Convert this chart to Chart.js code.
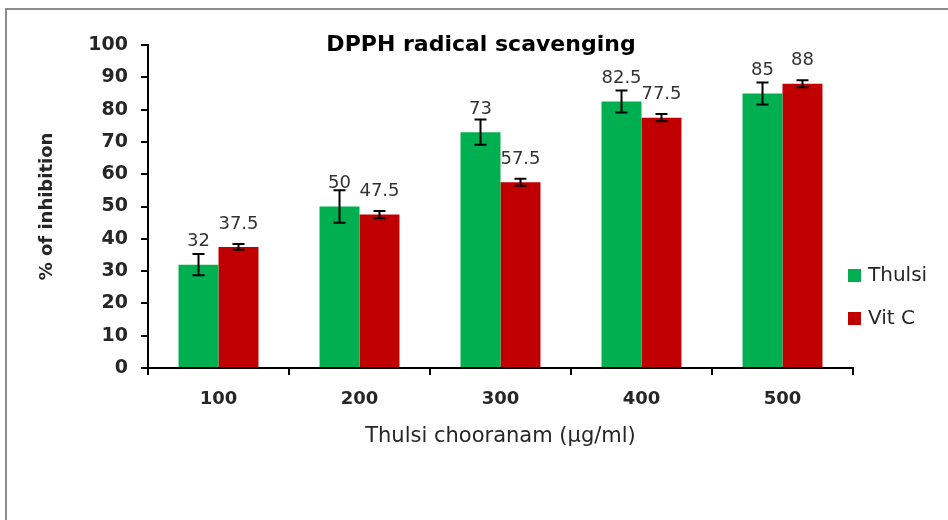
<!DOCTYPE html>
<html>
<head>
<meta charset="utf-8">
<script src="https://cdn.jsdelivr.net/npm/chart.js@4"></script>
<style>
  html, body { margin: 0; padding: 0; background: #fff; }
  #wrap { position: relative; width: 948px; height: 520px; overflow: hidden; }
  #frame { position: absolute; left: 5px; top: 8px; right: -10px; bottom: -10px;
           border-top: 2px solid #8c8c8c; border-left: 2px solid #8c8c8c; }
  #legend { position: absolute; left: 848px; top: 261px; font: 20px "DejaVu Sans", sans-serif; color: #262626; }
  #legend div { height: 43px; line-height: 27px; white-space: nowrap; }
  #legend span { display: inline-block; width: 13px; height: 13px; margin-right: 7px; vertical-align: -1px; }
</style>
</head>
<body>
<div id="wrap">
  <div id="frame"></div>
  <canvas id="chart" width="948" height="520"></canvas>
  <div id="legend"></div>
</div>
<script>
const categories = ['100', '200', '300', '400', '500'];
const thulsi = [32, 50, 73, 82.5, 85];
const thulsiErr = [3.3, 5, 3.9, 3.4, 3.4];
const vitC = [37.5, 47.5, 57.5, 77.5, 88];
const vitCErr = [0.9, 1.1, 1.1, 1.1, 1.1];
const yTicks = [0, 10, 20, 30, 40, 50, 60, 70, 80, 90, 100];

const green = '#00b050';
const red = '#c00000';
const textColor = '#262626';

// error bars, value labels and title drawn on top of the bars
const extras = {
    id: 'extras',
    afterDatasetsDraw(chart) {
        const ctx = chart.ctx;
        const y = chart.scales.y;
        const errs = [thulsiErr, vitCErr];

        ctx.save();
        chart.data.datasets.forEach((ds, i) => {
            const meta = chart.getDatasetMeta(i);
            meta.data.forEach((bar, j) => {
                const v = ds.data[j];
                ctx.fillStyle = '#333';
                ctx.font = '18px "DejaVu Sans"';
                ctx.textAlign = 'center';
                ctx.textBaseline = 'middle';
                ctx.fillText(String(v), bar.x, bar.y - 23);

                const top = y.getPixelForValue(v + errs[i][j]);
                const bot = y.getPixelForValue(v - errs[i][j]);
                ctx.strokeStyle = '#000';
                ctx.lineWidth = 2;
                ctx.beginPath();
                ctx.moveTo(bar.x, top); ctx.lineTo(bar.x, bot);
                ctx.moveTo(bar.x - 6, top); ctx.lineTo(bar.x + 6, top);
                ctx.moveTo(bar.x - 6, bot); ctx.lineTo(bar.x + 6, bot);
                ctx.stroke();
            });
        });

        ctx.fillStyle = '#000';
        ctx.font = 'bold 22px "DejaVu Sans"';
        ctx.textAlign = 'center';
        ctx.textBaseline = 'middle';
        ctx.fillText('DPPH radical scavenging', 481, 45);
        ctx.restore();
    }
};

const chart = new Chart(document.getElementById('chart'), {
    type: 'bar',
    data: {
        labels: categories,
        datasets: [
            { label: 'Thulsi', data: thulsi, backgroundColor: green },
            { label: 'Vit C', data: vitC, backgroundColor: red }
        ]
    },
    options: {
        responsive: false,
        animation: false,
        categoryPercentage: 0.567,
        barPercentage: 1,
        layout: { padding: { top: 45, right: 95, left: 0, bottom: 0 } },
        plugins: {
            legend: { display: false },
            tooltip: { enabled: false }
        },
        scales: {
            x: {
                grid: { offset: true, drawOnChartArea: false, tickLength: 7, color: '#000', lineWidth: 2 },
                border: { color: '#000', width: 2 },
                ticks: { color: textColor, padding: 14, font: { family: 'DejaVu Sans', size: 18, weight: 'bold' } },
                title: {
                    display: true,
                    text: 'Thulsi chooranam (µg/ml)',
                    color: textColor,
                    font: { family: 'DejaVu Sans', size: 21 },
                    padding: { top: 0, bottom: 71 }
                },
                afterFit(scale) { scale.height = 152; }
            },
            y: {
                min: 0,
                max: 100,
                afterBuildTicks(scale) { scale.ticks = yTicks.map(v => ({ value: v })); },
                grid: { drawOnChartArea: false, tickLength: 7, color: '#000', lineWidth: 2 },
                border: { color: '#000', width: 2 },
                ticks: { color: textColor, padding: 13, font: { family: 'DejaVu Sans', size: 19, weight: 'bold' } },
                title: {
                    display: true,
                    text: '% of inhibition',
                    color: textColor,
                    font: { family: 'DejaVu Sans', size: 18, weight: 'bold' },
                    padding: { top: 37, bottom: 0 }
                },
                afterFit(scale) { scale.width = 148; }
            }
        }
    },
    plugins: [extras]
});

const legend = document.getElementById('legend');
chart.data.datasets.forEach(ds => {
    const row = document.createElement('div');
    row.innerHTML = '<span style="background:' + ds.backgroundColor + '"></span>' + ds.label;
    legend.appendChild(row);
});
</script>
</body>
</html>
